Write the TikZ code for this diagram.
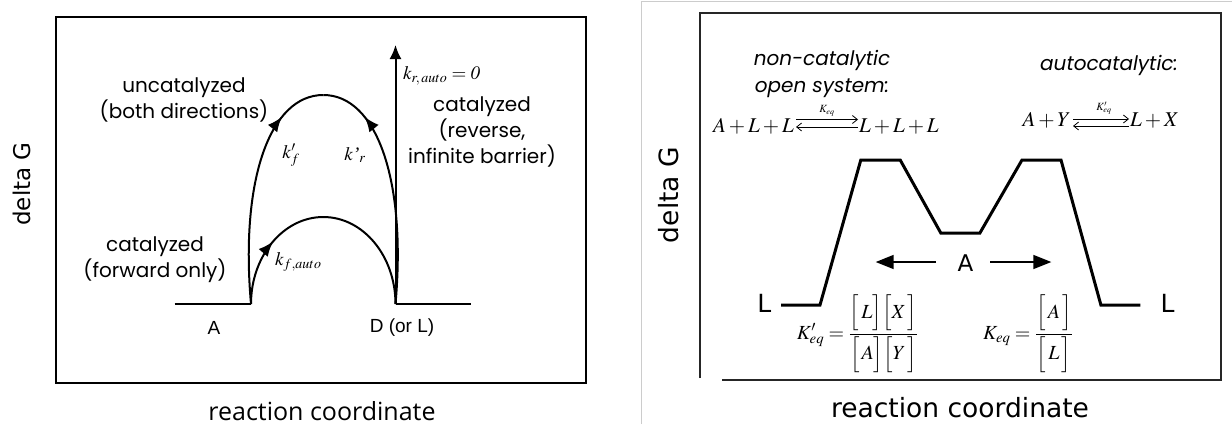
\documentclass[tikz,border=0pt]{standalone}
\usepackage{amsmath}
\usepackage{mathptmx}
\usepackage[no-math]{fontspec}
\newfontfamily\pop{Poppins}
\newfontfamily\dvs{DejaVu Sans}
\newfontfamily\osans{Open Sans}
\newfontfamily\lsans{Liberation Sans}
\newfontfamily\lserif{Liberation Serif}
\usetikzlibrary{arrows.meta,decorations.markings}
\newcommand{\fsz}[2]{\fontsize{#1}{#2}\selectfont}
\begin{document}
\begin{tikzpicture}[x=1pt,y=-1pt,
  curve/.style={line width=2pt},
  midarrow/.style={postaction={decorate},decoration={markings,mark=at position #1 with {\arrow{Latex[length=15pt,width=12pt]}}}},
  ctext/.style={font=\pop\fsz{20}{26}, align=center, inner sep=0pt},
  mtext/.style={font=\fsz{19}{22}, inner sep=0pt},
  eqtext/.style={font=\fsz{21}{24}, inner sep=0pt},
  lab/.style={font=\lsans\fsz{19}{22}, inner sep=0pt},
  axlab/.style={font=\dvs\fsz{26.5}{30}, inner sep=0pt},
  profile/.style={line width=3pt},
  eqarrow/.style={line width=0.8pt},
  bigarrow/.style={line width=1.5pt,-{Triangle[length=18pt,width=14pt]}}
]
\useasboundingbox (0,0) rectangle (1232,424);
\fill[white] (0,0) rectangle (1232,424);

% ---------- left panel ----------
\draw[line width=2pt] (56,17) rectangle (586,383);
\coordinate (Aend) at (174.6,304);
\coordinate (A0) at (251,304);
\coordinate (D0) at (395.5,304);
\coordinate (Dend) at (471.4,304);
\coordinate (Pbig) at (323.3,95);
\coordinate (Psmall) at (323.3,217);
\coordinate (Top) at (395.5,45);

\draw[curve] (Aend) -- (A0);
\draw[curve] (D0) -- (Dend);
\draw[curve, midarrow=0.8] (A0) .. controls (240,180) and (270,95) .. (Pbig);
\draw[curve, midarrow=0.8] (D0) .. controls (406.6,180) and (376.6,95) .. (Pbig);
\draw[curve, midarrow=0.27] (A0) .. controls (251,256) and (283.4,217) .. (Psmall)
   .. controls (363.2,217) and (395.5,256) .. (D0);
\draw[curve, -{Latex[length=14pt,width=12pt]}] (D0) -- (Top);

\node[ctext] (unc) at (184,100) {uncatalyzed\\(both directions)};
\node[ctext] (catf) at (155,260) {catalyzed\\(forward only)};
\node[ctext] (catr) at (482,132) {catalyzed\\(reverse,\\infinite barrier)};

\node[mtext, anchor=west] (kr) at (403,76) {$k_{r,\,auto}=\mathit{0}$};
\node[mtext] (kf) at (291,155) {$k'_f$};
\node[mtext] (krp) at (355,155) {$k\mbox{\lserif\itshape ’}_r$};
\node[mtext, anchor=west] (kfa) at (275,262) {$k_{f,auto}$};

\node[lab] (Alab) at (214,328) {A};
\node[lab] (Dlab) at (402,328) {D (or L)};

\node[rotate=90, font=\dvs\fsz{23}{26}, inner sep=0pt] (dgL) at (22,184) {delta G};
\node[font=\osans\fsz{25}{28}, inner sep=0pt] (rcL) at (322,411) {reaction coordinate};

% ---------- right panel ----------
\draw[black!20, line width=1pt] (641,424) -- (641,1) -- (1232,1);
\draw[line width=2pt, black!85] (700,378) -- (700,13) -- (1221,13) -- (1221,380) -- (722,380);

\node[axlab, rotate=90] (dgR) at (669,195) {delta G};
\node[axlab] (rcR) at (960,408) {reaction coordinate};

\coordinate (p1) at (781,305);
\coordinate (p2) at (820,305);
\coordinate (p3) at (860.8,160);
\coordinate (p4) at (900.2,160);
\coordinate (p5) at (940.8,233);
\coordinate (p6) at (979.9,233);
\coordinate (p7) at (1022,160);
\coordinate (p8) at (1061,160);
\coordinate (p9) at (1100.9,305);
\coordinate (p10) at (1140.3,305);
\draw[profile] (p1) -- (p2) -- (p3) -- (p4) -- (p5) -- (p6) -- (p7) -- (p8) -- (p9) -- (p10);

\node[font=\dvs\fsz{25}{28}, inner sep=0pt] (Ll) at (764.4,303) {L};
\node[font=\dvs\fsz{25}{28}, inner sep=0pt] (Lr) at (1167.6,303) {L};
\node[font=\dvs\fsz{23}{26}, inner sep=0pt] (Am) at (965.4,263.5) {A};
\coordinate (aLs) at (936,262);
\coordinate (aLe) at (875.7,262);
\coordinate (aRs) at (990,262);
\coordinate (aRe) at (1051.3,262);
\draw[bigarrow] (aLs) -- (aLe);
\draw[bigarrow] (aRs) -- (aRe);

\node[font=\pop\itshape\fsz{20}{27}, align=center, inner sep=0pt] (nc) at (822,74) {non-catalytic\\open system:};
\node[font=\pop\itshape\fsz{20}{27}, inner sep=0pt] (ac) at (1109,65) {autocatalytic:};

\node[eqtext, anchor=base east] (e1l) at (794,132.5) {$A+L+L$};
\node[eqtext, anchor=base west] (e1r) at (859,132.5) {$L+L+L$};
\coordinate (t1s) at (796,119.5);
\coordinate (t1e) at (858,119.5);
\coordinate (b1s) at (858,127);
\coordinate (b1e) at (796,127);
\draw[eqarrow, -{Straight Barb[length=5pt,width=8pt]}] (t1s) -- (t1e);
\draw[eqarrow, -{Straight Barb[length=5pt,width=8pt]}] (b1s) -- (b1e);
\node[font=\fsz{11}{13}, inner sep=0pt] (k1) at (827,111) {$K_{eq}$};

\node[eqtext, anchor=base east] (e2l) at (1071,126) {$A+Y$};
\node[eqtext, anchor=base west] (e2r) at (1130,126) {$L+X$};
\coordinate (t2s) at (1073,119);
\coordinate (t2e) at (1129,119);
\coordinate (b2s) at (1129,126);
\coordinate (b2e) at (1073,126);
\draw[eqarrow, -{Straight Barb[length=5pt,width=8pt]}] (t2s) -- (t2e);
\draw[eqarrow, -{Straight Barb[length=5pt,width=8pt]}] (b2s) -- (b2e);
\node[font=\fsz{11}{13}, inner sep=0pt] (k2) at (1104,108) {$K'_{eq}$};

\node[font=\fsz{20}{24}, inner sep=0pt] (f1) at (857.7,334) {$K'_{eq}=\displaystyle\frac{\Big[\,L\Big]\Big[X\,\Big]}{\Big[\,A\Big]\Big[Y\,\Big]}$};
\node[font=\fsz{20}{24}, inner sep=0pt] (f2) at (1028,334) {$K_{eq}=\displaystyle\frac{\Big[\,A\,\Big]}{\Big[\,L\,\Big]}$};
\end{tikzpicture}
\end{document}
